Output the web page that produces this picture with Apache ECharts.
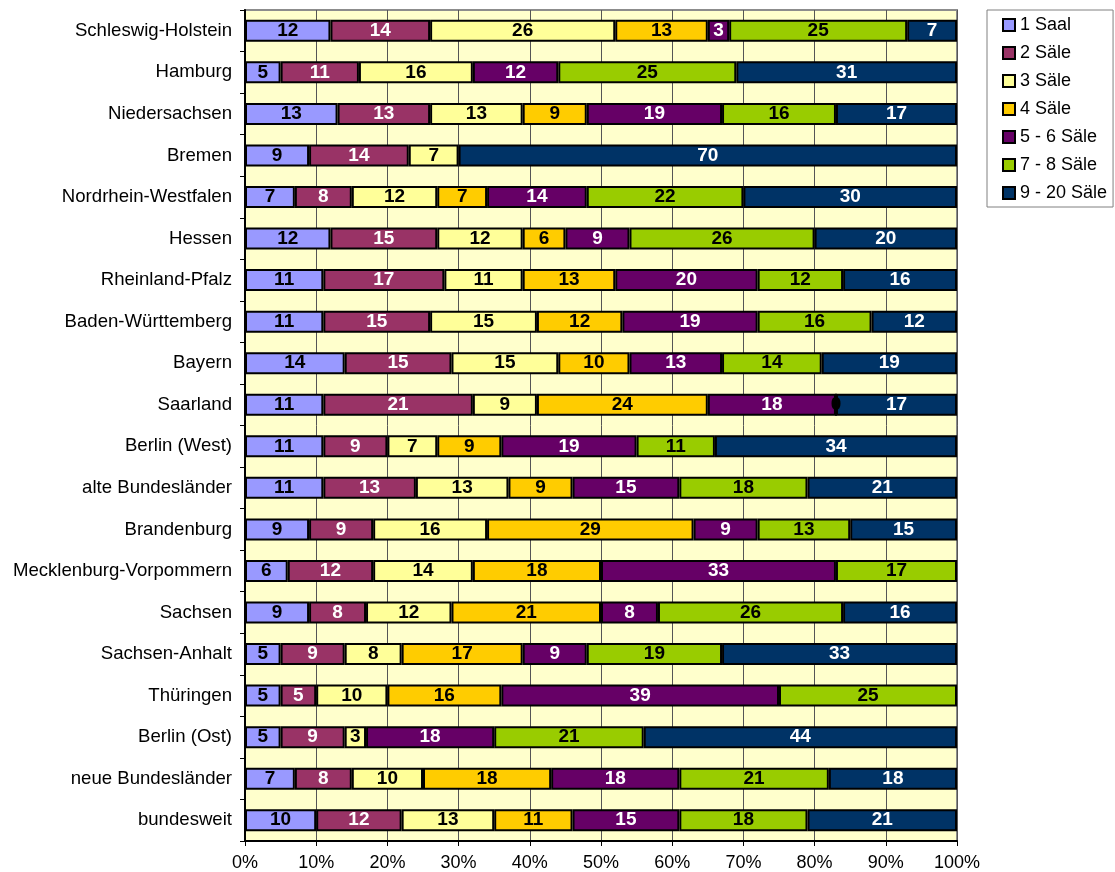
<!DOCTYPE html>
<html>
<head>
<meta charset="utf-8">
<script src="https://cdn.jsdelivr.net/npm/echarts@6/dist/echarts.min.js"></script>
<style>
  html, body { margin: 0; padding: 0; background: #ffffff; }
  #chart { width: 1115px; height: 872px; }
</style>
</head>
<body>
<div id="chart"></div>
<script>
// Kinos nach Anzahl der Säle, Anteile in Prozent je Bundesland
const categories = [
  'Schleswig-Holstein', 'Hamburg', 'Niedersachsen', 'Bremen', 'Nordrhein-Westfalen',
  'Hessen', 'Rheinland-Pfalz', 'Baden-Württemberg', 'Bayern', 'Saarland',
  'Berlin (West)', 'alte Bundesländer', 'Brandenburg', 'Mecklenburg-Vorpommern', 'Sachsen',
  'Sachsen-Anhalt', 'Thüringen', 'Berlin (Ost)', 'neue Bundesländer', 'bundesweit'
];

const seriesNames = ['1 Saal', '2 Säle', '3 Säle', '4 Säle', '5 - 6 Säle', '7 - 8 Säle', '9 - 20 Säle'];

const saal1    = [12, 5, 13, 9, 7, 12, 11, 11, 14, 11, 11, 11, 9, 6, 9, 5, 5, 5, 7, 10];
const saele2   = [14, 11, 13, 14, 8, 15, 17, 15, 15, 21, 9, 13, 9, 12, 8, 9, 5, 9, 8, 12];
const saele3   = [26, 16, 13, 7, 12, 12, 11, 15, 15, 9, 7, 13, 16, 14, 12, 8, 10, 3, 10, 13];
const saele4   = [13, null, 9, null, 7, 6, 13, 12, 10, 24, 9, 9, 29, 18, 21, 17, 16, null, 18, 11];
const saele56  = [3, 12, 19, null, 14, 9, 20, 19, 13, 18, 19, 15, 9, 33, 8, 9, 39, 18, 18, 15];
const saele78  = [25, 25, 16, null, 22, 26, 12, 16, 14, 0, 11, 18, 13, 17, 26, 19, 25, 21, 21, 18];
const saele920 = [7, 31, 17, 70, 30, 20, 16, 12, 19, 17, 34, 21, 15, null, 16, 33, null, 44, 18, 21];

const xTicks = { min: 0, max: 100, step: 10 };

const seriesData = [saal1, saele2, saele3, saele4, saele56, saele78, saele920];
const fillColors  = ['#9999FF', '#993366', '#FFFF99', '#FFCC00', '#660066', '#99CC00', '#003366'];
const labelColors = ['#000000', '#FFFFFF', '#000000', '#000000', '#FFFFFF', '#000000', '#FFFFFF'];

const FONT = '"Liberation Sans", Arial, sans-serif';

const chart = echarts.init(document.getElementById('chart'), null, { renderer: 'canvas' });

const series = seriesNames.map((name, i) => ({
  name: name,
  type: 'bar',
  stack: 'total',
  barWidth: 22,
  data: seriesData[i],
  itemStyle: { color: fillColors[i], borderColor: '#000000', borderWidth: 2 },
  label: {
    show: true,
    position: 'inside',
    color: labelColors[i],
    fontFamily: FONT,
    fontSize: 19,
    fontWeight: 'bold',
    formatter: p => (p.value === null || p.value === undefined) ? '' : String(p.value)
  },
  emphasis: { disabled: true },
  animation: false
}));

chart.setOption({
  animation: false,
  textStyle: { fontFamily: FONT },
  grid: {
    left: 245, right: 158, top: 10, bottom: 31,
    show: true,
    backgroundColor: '#FFFFCC',
    borderColor: '#8C8C8C',
    borderWidth: 2,
    containLabel: false
  },
  legend: {
    orient: 'vertical',
    left: 987, top: 10,
    padding: [6, 6, 5, 15],
    itemWidth: 12, itemHeight: 12,
    itemGap: 10,
    backgroundColor: '#FFFFFF',
    borderColor: '#808080',
    borderWidth: 1,
    borderRadius: 0,
    icon: 'rect',
    selectedMode: false,
    itemStyle: { borderColor: '#000000', borderWidth: 2 },
    textStyle: { fontFamily: FONT, fontSize: 18, color: '#000000', lineHeight: 18 },
    data: seriesNames
  },
  xAxis: {
    type: 'value',
    min: xTicks.min, max: xTicks.max, interval: xTicks.step,
    axisLine: { show: true, lineStyle: { color: '#000000', width: 2 } },
    axisTick: { show: true, length: 5, lineStyle: { color: '#000000', width: 1 } },
    splitLine: { show: true, lineStyle: { color: '#555555', width: 1 } },
    axisLabel: {
      formatter: '{value}%', color: '#000000', fontSize: 18, fontFamily: FONT, margin: 13
    }
  },
  yAxis: {
    type: 'category',
    inverse: true,
    data: categories,
    axisLine: { show: true, lineStyle: { color: '#000000', width: 2 } },
    axisTick: { show: true, length: 5, lineStyle: { color: '#000000', width: 1 } },
    axisLabel: { color: '#000000', fontSize: 18.6, fontFamily: FONT, margin: 13 },
    splitLine: { show: false }
  },
  series: series
});
</script>
</body>
</html>
